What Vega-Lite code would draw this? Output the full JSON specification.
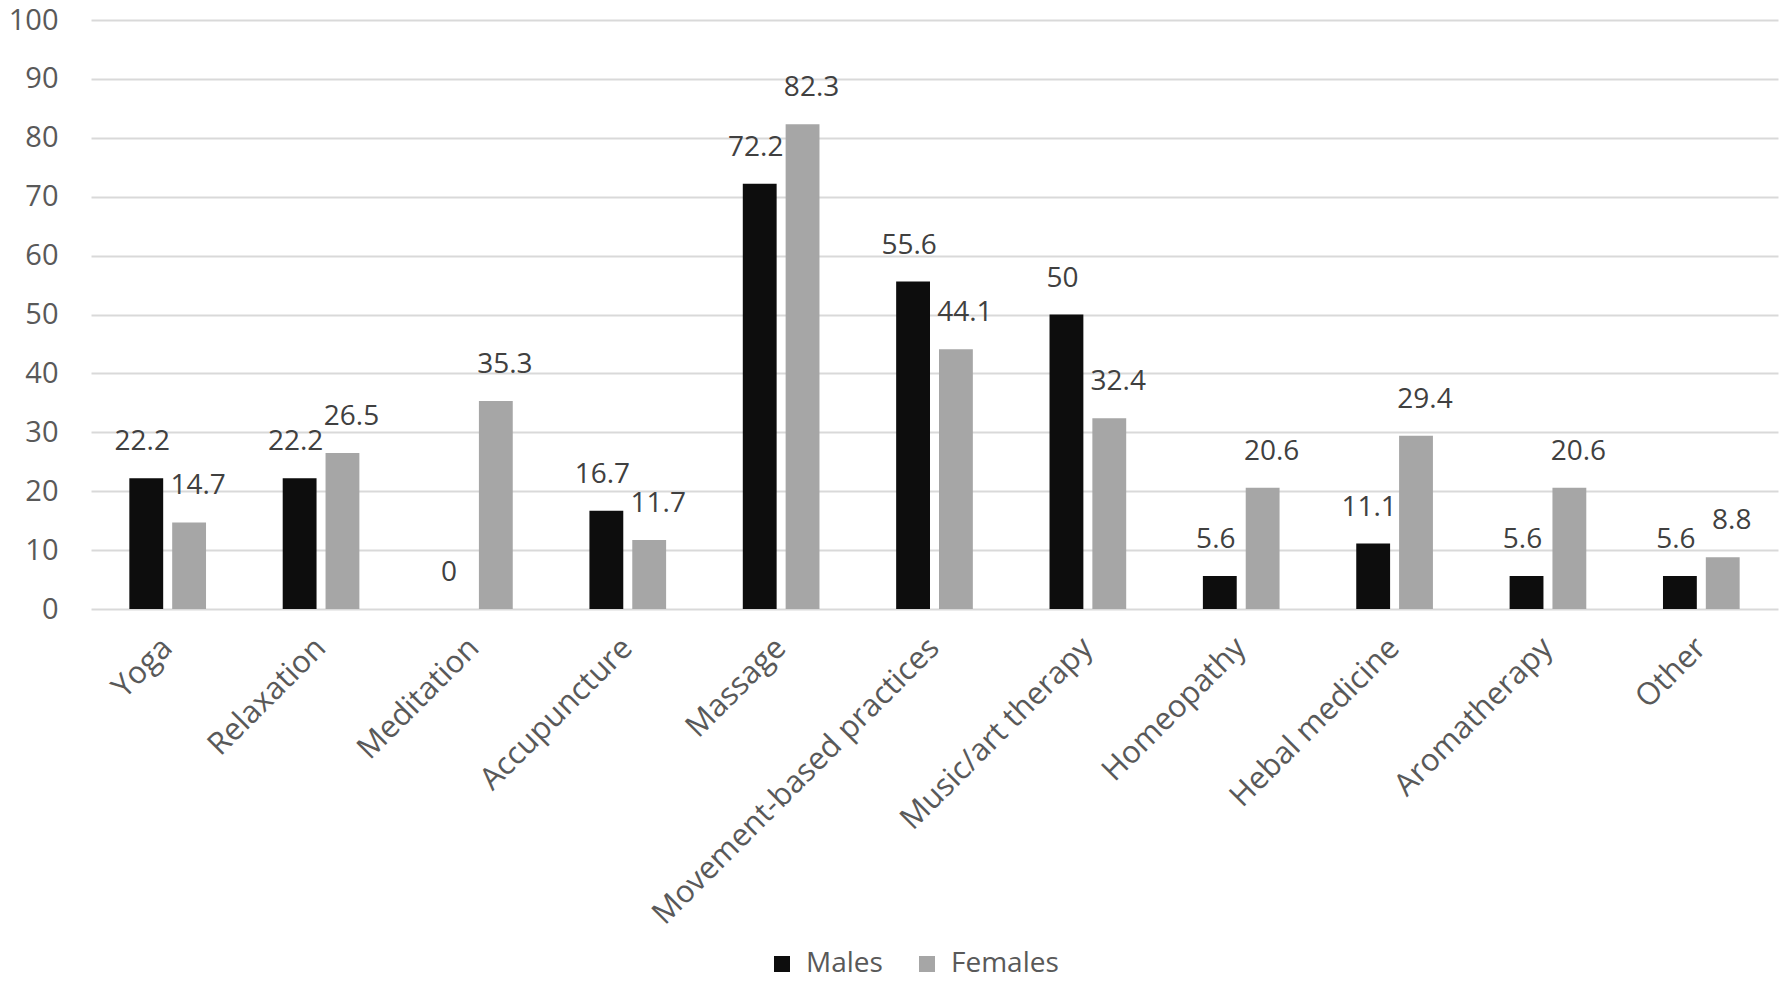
{
  "$schema": "https://vega.github.io/schema/vega-lite/v6.json",
  "width": 1687,
  "height": 589,
  "autosize": {"type": "none"},
  "padding": {"left": 91, "top": 20, "right": 6, "bottom": 374},
  "background": "white",
  "data": {
    "values": [
      {"category": "Yoga", "sex": "Males", "value": 22.2},
      {"category": "Yoga", "sex": "Females", "value": 14.7},
      {"category": "Relaxation", "sex": "Males", "value": 22.2},
      {"category": "Relaxation", "sex": "Females", "value": 26.5},
      {"category": "Meditation", "sex": "Males", "value": 0},
      {"category": "Meditation", "sex": "Females", "value": 35.3},
      {"category": "Accupuncture", "sex": "Males", "value": 16.7},
      {"category": "Accupuncture", "sex": "Females", "value": 11.7},
      {"category": "Massage", "sex": "Males", "value": 72.2},
      {"category": "Massage", "sex": "Females", "value": 82.3},
      {"category": "Movement-based practices", "sex": "Males", "value": 55.6},
      {"category": "Movement-based practices", "sex": "Females", "value": 44.1},
      {"category": "Music/art therapy", "sex": "Males", "value": 50},
      {"category": "Music/art therapy", "sex": "Females", "value": 32.4},
      {"category": "Homeopathy", "sex": "Males", "value": 5.6},
      {"category": "Homeopathy", "sex": "Females", "value": 20.6},
      {"category": "Hebal medicine", "sex": "Males", "value": 11.1},
      {"category": "Hebal medicine", "sex": "Females", "value": 29.4},
      {"category": "Aromatherapy", "sex": "Males", "value": 5.6},
      {"category": "Aromatherapy", "sex": "Females", "value": 20.6},
      {"category": "Other", "sex": "Males", "value": 5.6},
      {"category": "Other", "sex": "Females", "value": 8.8}
    ]
  },
  "encoding": {
    "x": {
      "field": "category",
      "type": "nominal",
      "sort": null,
      "title": null,
      "scale": {"paddingInner": 0.5, "paddingOuter": 0.25},
      "axis": {
        "labelAngle": -45,
        "labelAlign": "right",
        "labelBaseline": "middle",
        "labelPadding": 34,
        "labelFontSize": 31,
        "labelColor": "#595959",
        "labelFont": "Open Sans",
        "ticks": false,
        "domain": false,
        "grid": false,
        "labelLimit": 600
      }
    },
    "xOffset": {
      "field": "sex",
      "type": "nominal",
      "sort": ["Males", "Females"],
      "scale": {"paddingInner": 0.21, "paddingOuter": 0}
    },
    "y": {
      "field": "value",
      "type": "quantitative",
      "title": null,
      "scale": {"domain": [0, 100], "nice": false},
      "axis": {
        "values": [0, 10, 20, 30, 40, 50, 60, 70, 80, 90, 100],
        "labelFontSize": 29,
        "labelColor": "#595959",
        "labelFont": "Open Sans",
        "labelPadding": 33,
        "ticks": false,
        "domain": false,
        "grid": true,
        "gridColor": "#d9d9d9",
        "gridWidth": 2
      }
    }
  },
  "layer": [
    {
      "mark": {"type": "bar"},
      "encoding": {
        "color": {
          "field": "sex",
          "type": "nominal",
          "sort": ["Males", "Females"],
          "scale": {"domain": ["Males", "Females"], "range": ["#0d0d0d", "#a6a6a6"]},
          "legend": {
            "title": null,
            "orient": "none",
            "direction": "horizontal",
            "legendX": 677,
            "legendY": 930,
            "symbolType": "square",
            "symbolSize": 256,
            "symbolStrokeWidth": 0,
            "labelFontSize": 28,
            "labelFont": "Open Sans",
            "labelColor": "#595959",
            "labelOffset": 10,
            "columnPadding": 30
          }
        }
      }
    },
    {
      "transform": [{"filter": "datum.sex === 'Males'"}],
      "mark": {"type": "text", "baseline": "middle", "align": "center", "dy": -36, "dx": -4, "fontSize": 28, "font": "Open Sans", "color": "#404040"},
      "encoding": {
        "text": {"field": "value", "type": "quantitative", "format": ".1~f"}
      }
    },
    {
      "transform": [{"filter": "datum.sex === 'Females'"}],
      "mark": {"type": "text", "baseline": "middle", "align": "center", "dy": -36, "dx": 9, "fontSize": 28, "font": "Open Sans", "color": "#404040"},
      "encoding": {
        "text": {"field": "value", "type": "quantitative", "format": ".1~f"}
      }
    }
  ],
  "config": {
    "view": {"stroke": null}
  }
}
